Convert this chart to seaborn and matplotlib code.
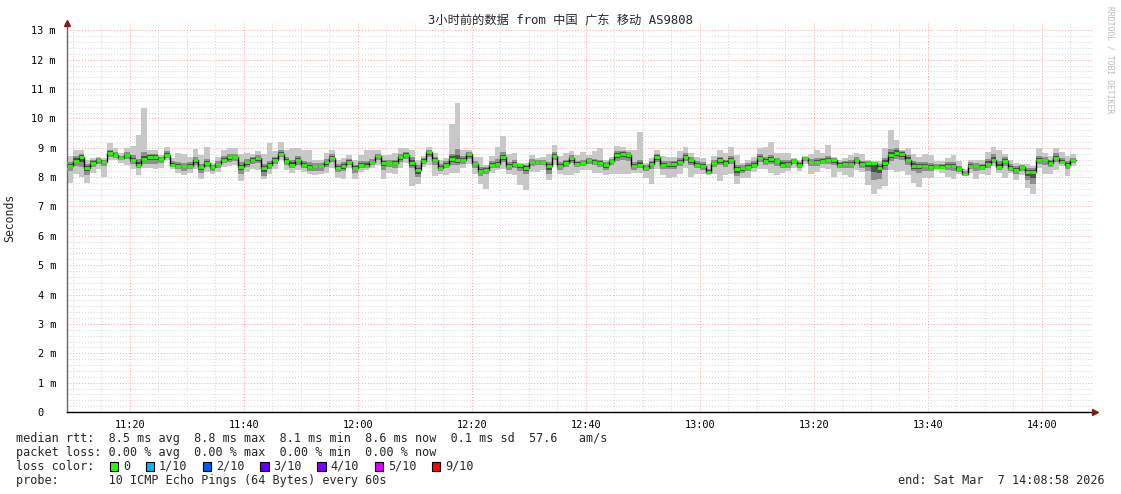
import matplotlib
matplotlib.use('Agg')
import matplotlib.pyplot as plt
from matplotlib.patches import Rectangle
from matplotlib.ticker import FixedLocator, MultipleLocator
import numpy as np
import seaborn as sns

# minutes after 11:00, one sample per minute starting 11:09
first_minute = 9
view_start, view_end = 8.97, 188.97

# median rtt (ms) per minute
median_ms = [
    8.38, 8.55, 8.68, 8.31, 8.49, 8.58, 8.51, 8.83, 8.75, 8.65,
    8.75, 8.57, 8.43, 8.62, 8.70, 8.70, 8.61, 8.77, 8.43, 8.38,
    8.38, 8.39, 8.57, 8.34, 8.48, 8.33, 8.44, 8.59, 8.67, 8.67,
    8.36, 8.50, 8.59, 8.64, 8.32, 8.41, 8.58, 8.80, 8.56, 8.43,
    8.59, 8.41, 8.36, 8.38, 8.38, 8.51, 8.66, 8.32, 8.38, 8.52,
    8.32, 8.43, 8.39, 8.51, 8.72, 8.48, 8.48, 8.48, 8.68, 8.77,
    8.48, 8.24, 8.56, 8.84, 8.59, 8.32, 8.43, 8.61, 8.58, 8.59,
    8.78, 8.44, 8.20, 8.24, 8.43, 8.44, 8.68, 8.38, 8.44, 8.40,
    8.32, 8.50, 8.50, 8.51, 8.38, 8.73, 8.38, 8.48, 8.64, 8.45,
    8.48, 8.58, 8.52, 8.48, 8.40, 8.55, 8.75, 8.80, 8.75, 8.39,
    8.41, 8.31, 8.45, 8.69, 8.43, 8.44, 8.44, 8.52, 8.70, 8.57,
    8.43, 8.38, 8.18, 8.48, 8.57, 8.48, 8.59, 8.26, 8.30, 8.36,
    8.43, 8.66, 8.55, 8.61, 8.55, 8.43, 8.45, 8.55, 8.43, 8.64,
    8.51, 8.51, 8.55, 8.58, 8.57, 8.41, 8.45, 8.45, 8.57, 8.44,
    8.47, 8.48, 8.30, 8.49, 8.77, 8.83, 8.80, 8.59, 8.38, 8.38,
    8.38, 8.34, 8.34, 8.35, 8.38, 8.38, 8.26, 8.11, 8.39, 8.38,
    8.36, 8.45, 8.58, 8.35, 8.56, 8.31, 8.25, 8.35, 8.16, 8.17,
    8.58, 8.58, 8.48, 8.64, 8.52, 8.43, 8.57,
]

# smoke: lowest and highest ping of each round
smoke_lo = [
    7.81, 8.09, 8.00, 7.81, 8.15, 8.26, 8.01, 8.60, 8.57, 8.49,
    8.43, 8.26, 8.06, 8.32, 8.30, 8.26, 8.32, 8.57, 8.26, 8.15,
    8.07, 8.15, 8.26, 7.95, 8.18, 8.11, 8.18, 8.34, 8.38, 8.43,
    7.86, 8.18, 8.26, 8.23, 7.92, 8.11, 8.26, 8.60, 8.23, 8.15,
    8.23, 8.18, 8.09, 8.07, 8.11, 8.15, 8.32, 7.98, 7.95, 8.30,
    7.95, 8.18, 8.23, 8.32, 8.43, 7.95, 8.15, 8.09, 8.32, 8.49,
    7.69, 7.75, 8.34, 8.43, 8.03, 8.09, 8.07, 8.15, 8.15, 8.32,
    8.45, 8.09, 7.77, 7.61, 8.15, 8.23, 8.26, 8.09, 8.07, 7.73,
    7.55, 8.18, 8.18, 8.23, 7.89, 8.43, 8.09, 8.07, 8.07, 8.15,
    8.23, 8.23, 8.15, 8.15, 8.07, 8.09, 8.09, 8.09, 8.09, 8.15,
    8.15, 7.98, 7.77, 8.26, 8.07, 7.98, 8.00, 8.09, 8.32, 8.00,
    8.11, 8.11, 8.07, 8.11, 7.86, 8.07, 8.09, 7.77, 7.98, 7.98,
    8.18, 8.26, 8.26, 8.15, 8.07, 8.15, 8.20, 8.32, 8.20, 8.45,
    8.09, 8.18, 8.32, 8.26, 8.00, 8.18, 8.07, 8.00, 8.23, 8.18,
    7.73, 7.41, 7.58, 7.69, 8.23, 8.18, 8.20, 8.07, 7.81, 7.66,
    7.98, 7.98, 8.23, 8.15, 8.00, 7.95, 8.11, 8.03, 8.15, 7.95,
    8.11, 8.07, 8.38, 8.15, 7.98, 8.15, 7.89, 8.07, 7.64, 7.43,
    8.30, 8.11, 8.09, 8.23, 8.38, 8.03, 8.38,
]
smoke_hi = [
    8.72, 8.91, 8.91, 8.57, 8.64, 8.68, 8.66, 9.15, 9.00, 8.83,
    9.00, 9.06, 9.42, 10.36, 8.91, 8.91, 8.77, 9.03, 8.66, 8.83,
    8.80, 8.68, 8.97, 8.77, 9.02, 8.49, 8.68, 8.94, 9.00, 9.00,
    8.80, 8.83, 8.80, 8.89, 8.80, 9.15, 8.89, 9.20, 8.94, 9.00,
    9.00, 8.94, 8.94, 8.60, 8.60, 8.83, 8.94, 8.60, 8.66, 8.77,
    8.57, 8.77, 8.94, 8.94, 8.92, 8.75, 8.75, 8.83, 8.98, 8.98,
    8.91, 8.60, 8.72, 9.02, 8.83, 8.60, 8.66, 9.82, 10.53, 8.91,
    8.94, 8.68, 8.68, 8.43, 8.72, 9.02, 9.40, 8.80, 8.83, 8.49,
    8.49, 8.75, 8.64, 8.68, 8.80, 9.09, 8.72, 8.83, 8.89, 8.75,
    8.86, 8.77, 8.89, 8.98, 8.60, 8.68, 9.06, 9.02, 8.91, 8.91,
    9.55, 8.49, 8.66, 8.91, 8.72, 8.68, 8.68, 8.89, 9.02, 8.83,
    8.68, 8.66, 8.45, 8.72, 8.91, 8.83, 9.02, 8.77, 8.49, 8.60,
    8.68, 9.00, 9.02, 9.20, 8.83, 8.83, 8.83, 8.66, 8.60, 8.72,
    8.80, 8.91, 8.83, 9.11, 8.68, 8.60, 8.64, 8.77, 8.83, 8.80,
    8.60, 8.55, 8.55, 9.00, 9.60, 9.25, 8.91, 9.00, 8.80, 8.68,
    8.80, 8.77, 8.55, 8.55, 8.64, 8.77, 8.55, 8.26, 8.60, 8.57,
    8.57, 8.86, 9.02, 8.94, 8.80, 8.60, 8.49, 8.45, 8.45, 8.38,
    8.98, 8.83, 8.72, 9.00, 8.86, 8.72, 8.80,
]
# darker smoke: middle pings of each round
mid_lo = [
    8.22, 8.38, 8.35, 8.08, 8.35, 8.45, 8.38, 8.68, 8.66, 8.58,
    8.62, 8.45, 8.30, 8.45, 8.45, 8.45, 8.48, 8.65, 8.34, 8.28,
    8.22, 8.28, 8.42, 8.15, 8.35, 8.22, 8.32, 8.48, 8.52, 8.55,
    8.10, 8.35, 8.45, 8.48, 8.05, 8.28, 8.45, 8.68, 8.42, 8.30,
    8.42, 8.30, 8.20, 8.22, 8.22, 8.35, 8.50, 8.18, 8.20, 8.42,
    8.15, 8.30, 8.30, 8.42, 8.58, 8.25, 8.35, 8.32, 8.52, 8.62,
    8.30, 8.00, 8.45, 8.68, 8.42, 8.20, 8.30, 8.42, 8.40, 8.45,
    8.62, 8.30, 8.05, 8.10, 8.30, 8.32, 8.50, 8.25, 8.30, 8.20,
    8.10, 8.38, 8.40, 8.42, 8.12, 8.58, 8.25, 8.35, 8.48, 8.35,
    8.38, 8.45, 8.40, 8.35, 8.25, 8.42, 8.55, 8.58, 8.55, 8.25,
    8.30, 8.20, 8.28, 8.50, 8.28, 8.28, 8.28, 8.38, 8.55, 8.40,
    8.30, 8.25, 8.12, 8.35, 8.40, 8.35, 8.45, 8.05, 8.15, 8.20,
    8.32, 8.50, 8.42, 8.45, 8.38, 8.30, 8.32, 8.45, 8.32, 8.55,
    8.38, 8.38, 8.45, 8.45, 8.40, 8.30, 8.32, 8.30, 8.45, 8.32,
    8.20, 7.90, 7.95, 8.25, 8.55, 8.62, 8.60, 8.42, 8.20, 8.15,
    8.22, 8.20, 8.28, 8.26, 8.25, 8.22, 8.18, 8.06, 8.28, 8.22,
    8.25, 8.32, 8.48, 8.25, 8.38, 8.22, 8.10, 8.22, 7.90, 7.75,
    8.45, 8.42, 8.35, 8.50, 8.45, 8.28, 8.48,
]
mid_hi = [
    8.52, 8.72, 8.80, 8.45, 8.58, 8.64, 8.60, 8.92, 8.84, 8.72,
    8.85, 8.75, 8.62, 8.85, 8.80, 8.80, 8.70, 8.88, 8.55, 8.50,
    8.48, 8.50, 8.68, 8.45, 8.62, 8.42, 8.55, 8.72, 8.78, 8.78,
    8.50, 8.62, 8.70, 8.75, 8.45, 8.55, 8.70, 8.92, 8.70, 8.58,
    8.72, 8.55, 8.50, 8.48, 8.48, 8.62, 8.78, 8.45, 8.50, 8.62,
    8.42, 8.55, 8.55, 8.62, 8.80, 8.60, 8.58, 8.60, 8.78, 8.86,
    8.68, 8.40, 8.65, 8.92, 8.70, 8.45, 8.55, 8.80, 8.95, 8.72,
    8.86, 8.55, 8.35, 8.35, 8.55, 8.62, 8.85, 8.50, 8.58, 8.45,
    8.42, 8.62, 8.58, 8.60, 8.50, 8.85, 8.50, 8.60, 8.75, 8.55,
    8.58, 8.66, 8.62, 8.60, 8.50, 8.62, 8.88, 8.90, 8.84, 8.52,
    8.60, 8.40, 8.55, 8.80, 8.55, 8.55, 8.56, 8.64, 8.82, 8.68,
    8.55, 8.50, 8.28, 8.58, 8.70, 8.60, 8.72, 8.42, 8.40, 8.48,
    8.55, 8.78, 8.68, 8.75, 8.65, 8.58, 8.58, 8.62, 8.52, 8.70,
    8.62, 8.65, 8.66, 8.72, 8.64, 8.52, 8.56, 8.58, 8.68, 8.56,
    8.55, 8.52, 8.45, 8.65, 8.95, 9.00, 8.88, 8.75, 8.55, 8.52,
    8.52, 8.48, 8.45, 8.45, 8.50, 8.52, 8.38, 8.20, 8.50, 8.48,
    8.46, 8.62, 8.78, 8.55, 8.68, 8.45, 8.38, 8.42, 8.32, 8.30,
    8.72, 8.68, 8.60, 8.82, 8.65, 8.56, 8.66,
]

hour_ticks = [20, 40, 60, 80, 100, 120, 140, 160, 180]
hour_labels = ['11:20', '11:40', '12:00', '12:20', '12:40', '13:00', '13:20', '13:40', '14:00']
y_ticks = list(range(0, 14))
y_labels = ['0  '] + [f'{v} m' for v in range(1, 14)]

loss_labels = ['0', '1/10', '2/10', '3/10', '4/10', '5/10', '9/10']
loss_colors = ['#26ff00', '#00b8ff', '#0059ff', '#5e00ff', '#7e00ff', '#dd00ff', '#ff0000']
loss_cols = [13, 18, 26, 34, 42, 50, 58]

legend_lines = [
    'median rtt:  8.5 ms avg  8.8 ms max  8.1 ms min  8.6 ms now  0.1 ms sd  57.6   am/s',
    'packet loss: 0.00 % avg  0.00 % max  0.00 % min  0.00 % now',
    'loss color:',
    'probe:       10 ICMP Echo Pings (64 Bytes) every 60s',
]
title = '3小时前的数据 from 中国 广东 移动 AS9808'
end_text = 'end: Sat Mar  7 14:08:58 2026'

sns.set_theme(style='white')
mono = ['DejaVu Sans Mono', 'Noto Sans CJK SC']
plt.rcParams['font.family'] = mono

W, H = 1121, 494
fig = plt.figure(figsize=(W / 100, H / 100), dpi=100)
fig.patch.set_facecolor('white')


def fx(x):
    return x / W


def fy(y):
    return 1 - y / H


ax = fig.add_axes([fx(67), fy(412), (1093 - 67) / W, (412 - 23) / H])
ax.set_facecolor('white')

med = np.array(median_ms)
n = len(med)
edges = first_minute + np.arange(n + 1)


def ext(a):
    a = np.asarray(a, dtype=float)
    return np.append(a, a[-1])


lo, hi = np.array(smoke_lo), np.array(smoke_hi)
mlo, mhi = np.array(mid_lo), np.array(mid_hi)
ax.fill_between(edges, ext(lo), ext(hi), step='post', color='#c8c8c8', lw=0, zorder=2)
ax.fill_between(edges, ext(mlo), ext(mhi), step='post', color='#8e8e8e', lw=0, zorder=3)
ax.fill_between(edges, ext(med - (med - mlo) * 0.5), ext(med + (mhi - med) * 0.5),
                step='post', color='#4e4e4e', lw=0, zorder=4)

sns.lineplot(x=edges, y=ext(med), drawstyle='steps-post', color='black', lw=1.0,
             estimator=None, ax=ax, zorder=5)
ax.hlines(med, edges[:-1], edges[1:], color=loss_colors[0], lw=2.0, zorder=6)

ax.set_xlim(view_start, view_end)
ax.set_ylim(0, 13.25)
ax.xaxis.set_major_locator(FixedLocator(hour_ticks))
ax.xaxis.set_minor_locator(MultipleLocator(5))
ax.set_xticklabels(hour_labels)
ax.yaxis.set_major_locator(FixedLocator(y_ticks))
ax.yaxis.set_minor_locator(FixedLocator(np.round(np.arange(0, 13.01, 0.2), 2)))
ax.set_yticklabels(y_labels)

ax.grid(which='major', axis='both', color='#ffa0a0', lw=0.7, ls=(0, (1, 2)), zorder=1)
ax.grid(which='minor', axis='both', color='#d4d4d4', lw=0.7, ls=(0, (1, 2)), zorder=1)
ax.tick_params(axis='both', which='major', labelsize=7.4, length=3, width=0.7,
               color='#555555', pad=3, labelcolor='black')
ax.tick_params(axis='both', which='minor', length=2, width=0.6, color='#999999')
ax.tick_params(axis='y', pad=5)

for side in ['top', 'right']:
    ax.spines[side].set_visible(False)
ax.spines['left'].set_color('#666666')
ax.spines['left'].set_linewidth(1.0)
ax.spines['bottom'].set_color('black')
ax.spines['bottom'].set_linewidth(1.0)

# axis arrows
ax.plot([view_start], [13.25], marker='^', color='#7f1d1d', ms=4, clip_on=False, zorder=7)
ax.plot([view_end + 0.3], [0], marker='>', color='#7f1d1d', ms=4, clip_on=False, zorder=7)

fig.text(fx(560), fy(21), title, ha='center', va='center', fontsize=8.8, family=mono)
fig.text(fx(10), fy(218), 'Seconds', rotation=90, ha='center', va='center', fontsize=8.3)
fig.text(fx(1110), fy(60), 'RRDTOOL / TOBI OETIKER', rotation=-90, ha='center', va='center',
         fontsize=5.8, color='#bbbbbb')

ch = 7.15
line_y = [438, 452, 466, 480]
for text, y in zip(legend_lines, line_y):
    fig.text(fx(16), fy(y), text, ha='left', va='center', fontsize=8.5)

for col, lab, c in zip(loss_cols, loss_labels, loss_colors):
    x0 = 16 + col * ch
    fig.patches.append(Rectangle((fx(x0 + 1), fy(470.5)), 8.5 / W, 8.5 / H, transform=fig.transFigure,
                                 facecolor=c, edgecolor='black', lw=0.8))
    fig.text(fx(x0 + 2 * ch), fy(466), lab, ha='left', va='center', fontsize=8.5)

fig.text(fx(1105), fy(480), end_text, ha='right', va='center', fontsize=8.5)

fig.savefig('out.png', dpi=100, facecolor='white')
